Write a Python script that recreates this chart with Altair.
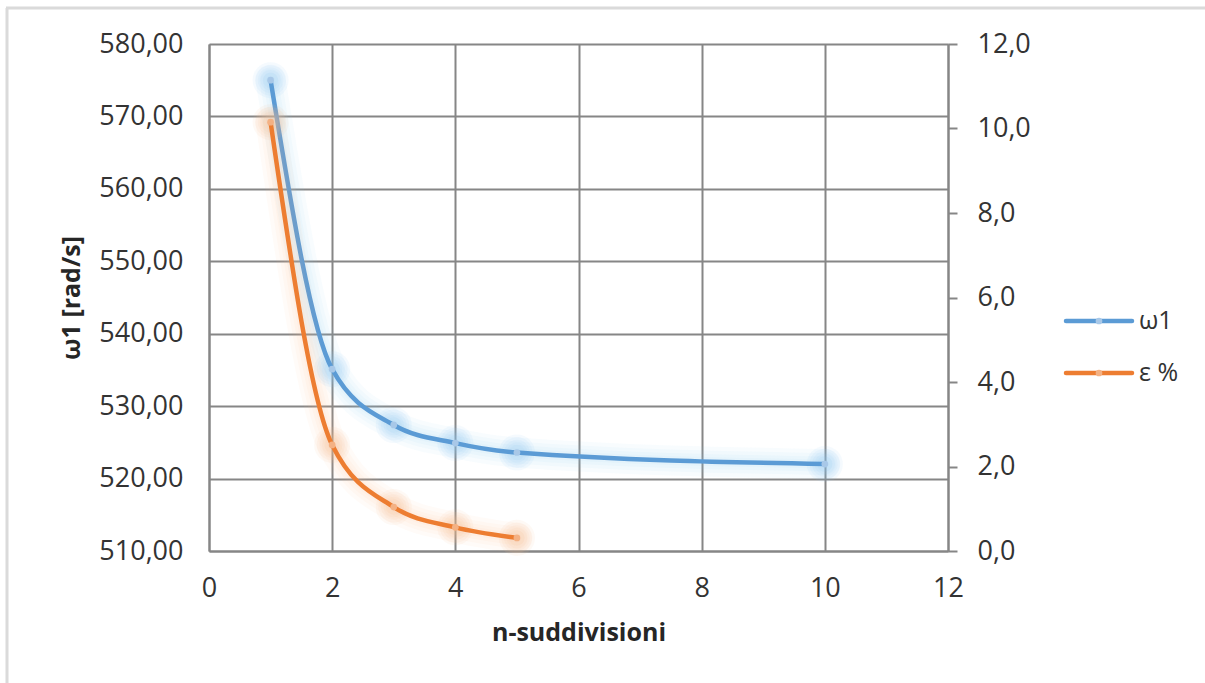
import altair as alt
import pandas as pd

# Convergence study: first natural frequency vs. number of subdivisions
n_omega = [1, 2, 3, 4, 5, 10]
omega = [575.0, 535.1, 527.4, 524.9, 523.6, 522.0]
n_eps = [1, 2, 3, 4, 5]
eps = [10.15, 2.51, 1.04, 0.56, 0.31]

series = ["ω1", "ε %"]
line_colors = ["#5b9bd5", "#ed7d31"]
marker_colors = ["#a8c8e8", "#f4b183"]
glow_colors = ["#8cc4f5", "#f7b98c"]

x_ticks = [0, 2, 4, 6, 8, 10, 12]
left_ticks = [510, 520, 530, 540, 550, 560, 570, 580]
right_ticks = [0, 2, 4, 6, 8, 10, 12]

FONT = "Open Sans"
GRID = "#868686"
TEXT = "#333333"
W, H = 739, 507

x_enc = alt.X(
    "n:Q",
    scale=alt.Scale(domain=[0, 12], nice=False),
    axis=alt.Axis(values=x_ticks, title="n-suddivisioni", grid=True,
                  ticks=False, labelFlush=False, labelPadding=24,
                  titlePadding=19),
)

y_left = alt.Y(
    "v:Q",
    scale=alt.Scale(domain=[510, 580], nice=False, zero=False),
    axis=alt.Axis(values=left_ticks, title="ω1 [rad/s]", orient="left",
                  grid=True, ticks=False, labelFlush=False, labelPadding=26,
                  titlePadding=14,
                  labelExpr="replace(format(datum.value, '.2f'), '.', ',')"),
)

y_right = alt.Y(
    "v:Q",
    scale=alt.Scale(domain=[0, 12], nice=False),
    axis=alt.Axis(values=right_ticks, title="", orient="right", grid=False,
                  ticks=True, tickSize=9, tickColor=GRID, tickWidth=2,
                  labelFlush=False, labelPadding=20,
                  labelExpr="replace(format(datum.value, '.1f'), '.', ',')"),
)

# Soft glow: stacked translucent halos (line widths and marker areas)
halo_widths = [30, 22, 15, 9]
glow_sizes = [1300, 950, 650, 420, 240]


def series_layers(df, y_enc, i):
    base = alt.Chart(df).encode(x=x_enc, y=y_enc)
    halos = [base.mark_line(interpolate="monotone", color=glow_colors[i],
                            strokeWidth=w, opacity=0.06, strokeCap="round")
             for w in halo_widths]
    glows = [base.mark_circle(size=s, color=glow_colors[i], opacity=0.09)
             for s in glow_sizes]
    line = base.mark_line(interpolate="monotone", color=line_colors[i],
                          strokeWidth=4.5, strokeCap="round")
    dots = base.mark_circle(size=45, color=marker_colors[i], opacity=1)
    return alt.layer(*halos, *glows, line, dots)


df_w = pd.DataFrame({"n": n_omega, "v": omega})
df_e = pd.DataFrame({"n": n_eps, "v": eps})

omega_layer = series_layers(df_w, y_left, 0)
eps_layer = series_layers(df_e, y_right, 1)

one = pd.DataFrame({"k": [0]})

# Frame edges of the chart area (left and top)
frame_left = alt.Chart(one).mark_rule(color="#dadada", strokeWidth=3).encode(
    x=alt.value(-202), y=alt.value(-36), y2=alt.value(H + 132))
frame_top = alt.Chart(one).mark_rule(color="#dadada", strokeWidth=3).encode(
    x=alt.value(-203), x2=alt.value(W + 257), y=alt.value(-36))

# Legend on the right: line sample with marker, then label
legend_parts = []
legend_y = [277, 329]
for i, name in enumerate(series):
    ly = legend_y[i]
    legend_parts.append(
        alt.Chart(one).mark_rule(color=line_colors[i], strokeWidth=4.5,
                                 strokeCap="round").encode(
            x=alt.value(857), x2=alt.value(923), y=alt.value(ly)))
    legend_parts.append(
        alt.Chart(one).mark_circle(size=45, color=marker_colors[i],
                                   opacity=1).encode(
            x=alt.value(890), y=alt.value(ly)))
    legend_parts.append(
        alt.Chart(one).mark_text(text=name, align="left", baseline="middle",
                                 font=FONT, fontSize=25, color=TEXT).encode(
            x=alt.value(930), y=alt.value(ly)))

chart = alt.layer(
    frame_left, frame_top, omega_layer, eps_layer, *legend_parts
).resolve_scale(
    y="independent"
).properties(
    width=W, height=H,
    autosize=alt.AutoSizeParams(type="none"),
    padding={"left": 209, "top": 44, "right": 257, "bottom": 132},
    background="white",
).configure_view(
    strokeWidth=0
).configure_axis(
    domainColor=GRID, domainWidth=2, gridColor=GRID, gridWidth=2,
    labelFont=FONT, labelFontSize=27, labelColor=TEXT,
    titleFont=FONT, titleFontSize=25, titleFontWeight="bold", titleColor="#262626",
)

chart.save("out.html", embed_options={"renderer": "svg", "actions": False})
